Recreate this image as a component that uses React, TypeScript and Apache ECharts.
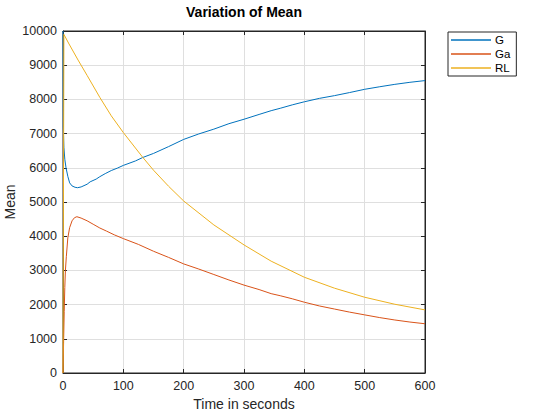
import React, { useEffect, useRef } from "react";
import * as echarts from "echarts";

const tG = [0, 0.5, 1.5, 3, 5, 8, 11, 15, 20, 24, 30, 40, 45, 55, 61, 70, 80, 90, 100, 120, 132, 150, 175, 200, 225, 250, 275, 300, 325, 345, 360, 380, 400, 425, 450, 475, 500, 525, 550, 575, 600];
const G = [10000, 7200, 6600, 6250, 6000, 5750, 5560, 5470, 5430, 5418, 5440, 5520, 5590, 5670, 5740, 5830, 5920, 5990, 6070, 6200, 6300, 6420, 6620, 6830, 6990, 7130, 7290, 7420, 7560, 7670, 7740, 7840, 7930, 8030, 8110, 8200, 8295, 8370, 8440, 8500, 8550];

const tGa = [0, 1, 2, 3, 4, 5.5, 8, 11, 15, 19, 23, 30, 40, 50, 61, 72, 85, 100, 125, 150, 175, 200, 225, 250, 275, 300, 325, 345, 360, 380, 400, 425, 450, 475, 500, 525, 550, 575, 600];
const Ga = [0, 900, 1800, 2500, 3000, 3400, 3950, 4250, 4450, 4540, 4570, 4530, 4450, 4350, 4240, 4150, 4040, 3930, 3760, 3560, 3380, 3190, 3040, 2880, 2720, 2570, 2440, 2320, 2260, 2170, 2070, 1960, 1870, 1780, 1700, 1620, 1550, 1490, 1440];

const tRL = [0, 1.5, 10, 25, 40, 61, 80, 100, 132, 150, 175, 200, 250, 300, 345, 400, 450, 500, 550, 600];
const RL = [0, 9900, 9620, 9150, 8700, 8060, 7520, 7030, 6310, 5930, 5460, 5030, 4330, 3745, 3270, 2800, 2480, 2215, 2010, 1845];

const seriesNames = ["G", "Ga", "RL"];
const seriesColors = ["#0072BD", "#D95319", "#EDB120"];
const xTicks = { min: 0, max: 600, interval: 100 };
const yTicks = { min: 0, max: 10000, interval: 1000 };

const pairs = (t: number[], v: number[]) => t.map((x, i) => [x, v[i]]);

export default function App() {
  const ref = useRef<HTMLDivElement>(null);
  useEffect(() => {
    if (!ref.current) return;
    const chart = echarts.init(ref.current, null, { renderer: "svg" });
    const font = "'Liberation Sans', Arial, Helvetica, sans-serif";
    const axisCol = "#262626";
    const baseAxis = {
      type: "value" as const,
      axisLine: { show: true, onZero: false, lineStyle: { color: axisCol, width: 1 } },
      axisTick: { show: true, inside: true, length: 4, lineStyle: { color: axisCol } },
    };
    const datas = [pairs(tG, G), pairs(tGa, Ga), pairs(tRL, RL)];
    chart.setOption({
      animation: false,
      textStyle: { fontFamily: font },
      graphic: [
        {
          type: "text",
          x: 244,
          y: 12,
          style: {
            text: "Variation of Mean",
            fontFamily: font,
            fontSize: 14,
            fontWeight: "bold",
            fill: "#000",
            textAlign: "center",
            textVerticalAlign: "middle",
          },
        },
        {
          type: "text",
          x: 10,
          y: 202,
          rotation: Math.PI / 2,
          style: {
            text: "Mean",
            fontFamily: font,
            fontSize: 14,
            fill: axisCol,
            textAlign: "center",
            textVerticalAlign: "middle",
          },
        },
      ],
      grid: {
        left: 63,
        right: 135,
        top: 31,
        bottom: 47,
        containLabel: false,
        outerBoundsMode: "none",
        show: true,
        borderColor: axisCol,
        borderWidth: 1,
        backgroundColor: "#fff",
      },
      legend: {
        orient: "vertical",
        left: 448,
        top: 32,
        width: 68,
        borderColor: axisCol,
        borderWidth: 1,
        padding: [2, 6, 2, 3],
        itemGap: 2,
        itemWidth: 40,
        itemHeight: 1.5,
        icon: "rect",
        textStyle: { fontSize: 11.5, color: "#000", padding: [0, 0, 0, -1] },
        data: seriesNames,
      },
      xAxis: [
        {
          ...baseAxis,
          ...xTicks,
          position: "bottom",
          axisLabel: { color: axisCol, fontSize: 12.5, margin: 6, formatter: (v: number) => String(v) },
          splitLine: { show: true, lineStyle: { color: "#dfdfdf", width: 1 } },
          name: "Time in seconds",
          nameLocation: "middle",
          nameGap: 24,
          nameTextStyle: { fontSize: 14, color: axisCol },
        },
        {
          ...baseAxis,
          ...xTicks,
          position: "top",
          axisLabel: { show: false },
          splitLine: { show: false },
        },
      ],
      yAxis: [
        {
          ...baseAxis,
          ...yTicks,
          position: "left",
          axisLabel: { color: axisCol, fontSize: 12.5, margin: 6, formatter: (v: number) => String(v) },
          splitLine: { show: true, lineStyle: { color: "#dfdfdf", width: 1 } },
        },
        {
          ...baseAxis,
          ...yTicks,
          position: "right",
          axisLabel: { show: false },
          splitLine: { show: false },
        },
      ],
      series: seriesNames.map((name, i) => ({
        name,
        type: "line",
        xAxisIndex: 0,
        yAxisIndex: 0,
        data: datas[i],
        showSymbol: false,
        symbol: "none",
        lineStyle: { width: 1, color: seriesColors[i] },
        itemStyle: { color: seriesColors[i] },
      })),
    });
    return () => chart.dispose();
  }, []);
  return <div ref={ref} style={{ position: "absolute", left: 0, top: 0, width: 560, height: 420 }} />;
}
